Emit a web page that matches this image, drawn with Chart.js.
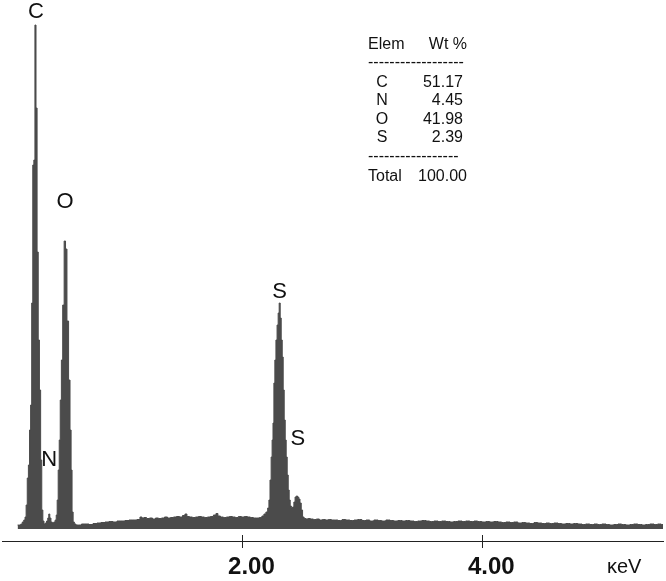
<!DOCTYPE html>
<html>
<head>
<meta charset="utf-8">
<script src="https://cdn.jsdelivr.net/npm/chart.js@4/dist/chart.umd.min.js"></script>
<style>
  html, body { margin: 0; padding: 0; background: #ffffff; }
  #wrap { position: relative; width: 666px; height: 581px; }
</style>
</head>
<body>
<div id="wrap"><canvas id="c"></canvas></div>
<script>
// Energy channels (keV) of the spectrum
const energies = [
  0.130, 0.138, 0.150, 0.163, 0.175, 0.188, 0.196, 0.206, 0.215, 0.225, 0.234, 0.243, 0.252, 0.261, 0.270,
  0.279, 0.288, 0.297, 0.307, 0.317, 0.327, 0.336, 0.345, 0.355, 0.366, 0.377, 0.386, 0.394, 0.403, 0.413,
  0.425, 0.438, 0.448, 0.456, 0.464, 0.473, 0.481, 0.490, 0.500, 0.512, 0.524, 0.535, 0.548, 0.562, 0.572,
  0.580, 0.588, 0.598, 0.608, 0.625, 0.650, 0.675, 0.708, 0.742, 0.775, 0.808, 0.842, 0.875, 0.908, 0.942,
  0.975, 1.008, 1.042, 1.075, 1.108, 1.142, 1.158, 1.175, 1.192, 1.217, 1.242, 1.267, 1.292, 1.317, 1.342,
  1.367, 1.392, 1.417, 1.442, 1.467, 1.492, 1.517, 1.533, 1.550, 1.575, 1.600, 1.625, 1.650, 1.675, 1.700,
  1.725, 1.750, 1.775, 1.792, 1.808, 1.833, 1.858, 1.883, 1.908, 1.933, 1.958, 1.983, 2.008, 2.033, 2.058,
  2.083, 2.108, 2.133, 2.158, 2.175, 2.192, 2.208, 2.221, 2.229, 2.239, 2.248, 2.255, 2.263, 2.270, 2.279,
  2.288, 2.298, 2.306, 2.315, 2.323, 2.332, 2.340, 2.348, 2.357, 2.365, 2.373, 2.382, 2.390, 2.398, 2.407,
  2.417, 2.428, 2.438, 2.448, 2.458, 2.469, 2.479, 2.489, 2.500, 2.511, 2.525, 2.542, 2.558, 2.583, 2.608,
  2.633, 2.658, 2.683, 2.708, 2.733, 2.758, 2.78, 2.82, 2.85, 2.88, 2.92, 2.95, 2.98, 3.02, 3.05,
  3.08, 3.12, 3.15, 3.18, 3.22, 3.25, 3.28, 3.32, 3.35, 3.38, 3.42, 3.45, 3.48, 3.52, 3.55,
  3.58, 3.62, 3.65, 3.68, 3.72, 3.75, 3.78, 3.82, 3.85, 3.88, 3.92, 3.95, 3.98, 4.02, 4.05,
  4.08, 4.12, 4.15, 4.18, 4.22, 4.25, 4.28, 4.32, 4.35, 4.38, 4.42, 4.45, 4.48, 4.52, 4.55,
  4.58, 4.62, 4.65, 4.68, 4.72, 4.75, 4.78, 4.82, 4.85, 4.88, 4.92, 4.95, 4.98, 5.02, 5.05,
  5.08, 5.12, 5.15, 5.18, 5.22, 5.25, 5.28, 5.32, 5.35, 5.38, 5.42, 5.45, 5.48, 5.51
];
// Counts per channel
const counts = [
  40, 40, 40, 50, 70, 90, 120, 240, 510, 640, 990, 1240, 2260, 3640, 3690,
  5040, 4210, 2770, 1890, 1390, 690, 190, 80, 50, 60, 80, 110, 150, 110, 70,
  60, 70, 90, 140, 290, 590, 890, 1290, 1690, 2240, 2880, 2800, 2080, 1490, 990,
  590, 170, 70, 50, 40, 40, 50, 50, 45, 55, 60, 65, 70, 75, 70,
  80, 80, 85, 90, 90, 95, 120, 110, 115, 105, 110, 100, 110, 105, 110,
  120, 110, 115, 120, 125, 120, 135, 150, 125, 120, 115, 120, 125, 120, 115,
  120, 125, 140, 155, 130, 120, 115, 120, 125, 120, 115, 125, 120, 125, 120,
  115, 110, 110, 115, 130, 150, 170, 210, 290, 490, 720, 890, 1060, 1460, 1690,
  1890, 2040, 2160, 2260, 2110, 1890, 1720, 1390, 1090, 890, 720, 540, 390, 290, 230,
  210, 220, 270, 320, 330, 320, 300, 260, 190, 120, 105, 100, 105, 100, 95,
  100, 90, 95, 90, 95, 90, 90, 85, 95, 90, 85, 90, 95, 85, 90,
  80, 90, 85, 80, 90, 85, 80, 85, 80, 85, 80, 75, 80, 85, 80,
  75, 80, 75, 80, 75, 70, 75, 80, 75, 80, 75, 80, 75, 70, 75,
  70, 75, 70, 65, 70, 65, 70, 60, 65, 60, 55, 65, 60, 55, 60,
  55, 60, 55, 50, 55, 50, 55, 50, 45, 50, 45, 50, 45, 50, 45,
  40, 45, 50, 45, 40, 45, 50, 45, 40, 45, 50, 45, 50, 45
];
// Axis tick values
const tickValues = [2, 4];
// Peak labels
const peakNames = ['C', 'O', 'N', 'S', 'S'];
const peakEnergies = [0.283, 0.525, 0.394, 2.313, 2.467];
const peakLabelCounts = [5170, 3270, 690, 2375, 905];
// Quantification table
const tableElements = ['C', 'N', 'O', 'S'];
const tableWeights = ['51.17', '4.45', '41.98', '2.39'];
const tableTotal = '100.00';
const axisUnit = 'κeV';

const points = energies.map((e, i) => ({ x: e, y: counts[i] }));

const overlayPlugin = {
  id: 'overlay',
  afterDraw(chart) {
    const ctx = chart.ctx;
    const xs = chart.scales.x, ys = chart.scales.y;
    const area = chart.chartArea;
    ctx.save();
    // tick marks crossing the axis
    ctx.strokeStyle = '#222';
    ctx.lineWidth = 1;
    tickValues.forEach(v => {
      const px = Math.round(xs.getPixelForValue(v)) + 0.5;
      ctx.beginPath();
      ctx.moveTo(px, area.bottom - 6);
      ctx.lineTo(px, area.bottom + 7);
      ctx.stroke();
    });
    // peak labels
    ctx.fillStyle = '#111';
    ctx.font = '22px "Liberation Sans", Arial, sans-serif';
    ctx.textAlign = 'center';
    ctx.textBaseline = 'middle';
    peakNames.forEach((n, i) => {
      ctx.fillText(n, xs.getPixelForValue(peakEnergies[i]), ys.getPixelForValue(peakLabelCounts[i]));
    });
    // unit label
    ctx.font = '20px "Liberation Sans", Arial, sans-serif';
    ctx.textAlign = 'left';
    ctx.textBaseline = 'alphabetic';
    ctx.fillText(axisUnit, xs.right - 56, 573);
    // table
    const L = 368, R = 467, elemX = 382, valR = 463;
    const tf = '16px "Liberation Sans", Arial, sans-serif';
    ctx.font = tf;
    ctx.textAlign = 'left';
    ctx.fillText('Elem', L, 48.5);
    ctx.textAlign = 'right';
    ctx.fillText('Wt %', R, 48.5);
    ctx.textAlign = 'left';
    ctx.fillText('------------------', L, 67);
    ctx.fillText('-----------------', L, 160.5);
    const rowBase = [87, 105, 123.5, 142];
    tableElements.forEach((el, i) => {
      ctx.textAlign = 'center';
      ctx.fillText(el, elemX, rowBase[i]);
      ctx.textAlign = 'right';
      ctx.fillText(tableWeights[i], valR, rowBase[i]);
    });
    ctx.textAlign = 'left';
    ctx.fillText('Total', L, 181);
    ctx.textAlign = 'right';
    ctx.fillText(tableTotal, R, 181);
    ctx.restore();
  }
};

new Chart(document.getElementById('c'), {
  type: 'line',
  data: {
    datasets: [{
      data: points,
      stepped: 'middle',
      fill: 'origin',
      backgroundColor: '#4b4b4b',
      borderColor: '#4b4b4b',
      borderWidth: 1,
      pointRadius: 0,
      tension: 0
    }]
  },
  options: {
    responsive: true,
    maintainAspectRatio: false,
    animation: false,
    events: [],
    layout: { padding: { left: 2, right: 3, top: 0, bottom: 0 } },
    plugins: { legend: { display: false }, tooltip: { enabled: false }, title: { display: false } },
    scales: {
      x: {
        type: 'linear',
        min: 0,
        max: 5.51,
        grid: { display: false, drawTicks: false },
        border: { display: true, color: '#222', width: 1 },
        afterBuildTicks: s => { s.ticks = tickValues.map(v => ({ value: v })); },
        afterFit: s => { s.height = 40; },
        ticks: {
          padding: 12,
          labelOffset: 9.5,
          maxRotation: 0,
          autoSkip: false,
          color: '#111',
          font: { family: '"Liberation Sans", Arial, sans-serif', size: 24, weight: 'bold' },
          callback: v => Number(v).toFixed(2)
        }
      },
      y: {
        display: false,
        min: -120,
        max: 5290
      }
    }
  },
  plugins: [overlayPlugin]
});
</script>
</body>
</html>
